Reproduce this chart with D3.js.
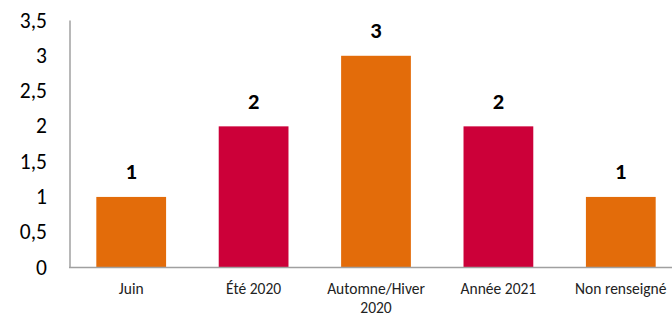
<!DOCTYPE html>
<html>
<head>
<meta charset="utf-8">
<script src="https://cdn.jsdelivr.net/npm/d3@7"></script>
<style>
  body { margin: 0; background: #fff; }
  svg { display: block; }
</style>
</head>
<body>
<div id="wrapper"></div>
<script>
const categories = [['Juin'], ['Été 2020'], ['Automne/Hiver', '2020'], ['Année 2021'], ['Non renseigné']];
const values = [1, 2, 3, 2, 1];
const barColors = ['#E36C0A', '#CC0039', '#E36C0A', '#CC0039', '#E36C0A'];
const yTicks = [0, 0.5, 1, 1.5, 2, 2.5, 3, 3.5];

const W = 672, H = 315;
const FONT = 'Carlito, Calibri, "Open Sans", sans-serif';

const svg = d3.select('#wrapper').append('svg')
  .attr('width', W)
  .attr('height', H);

const x = d3.scaleBand()
  .domain(d3.range(categories.length))
  .range([70, 682])
  .paddingInner(0.43)
  .paddingOuter(0.215);

const y = d3.scaleLinear()
  .domain([0, 3.5])
  .range([267.5, 20.5]);

const fmt = d => String(d).replace('.', ',');

/* Y axis */
const yAxis = svg.append('g').attr('transform', 'translate(70,0)');
yAxis.append('line')
  .attr('x1', 0).attr('x2', 0)
  .attr('y1', y(3.5)).attr('y2', y(0))
  .attr('stroke', '#a0a0a0')
  .attr('stroke-width', 1.5);
yAxis.selectAll('text').data(yTicks).join('text')
  .attr('x', -23)
  .attr('y', d => y(d))
  .attr('text-anchor', 'end')
  .attr('dominant-baseline', 'central')
  .attr('font-family', FONT)
  .attr('font-size', 21.5)
  .attr('fill', '#000')
  .text(fmt);

/* Bars */
svg.append('g').selectAll('rect').data(values).join('rect')
  .attr('x', (d, i) => x(i))
  .attr('width', x.bandwidth())
  .attr('y', d => y(d))
  .attr('height', d => y(0) - y(d))
  .attr('fill', (d, i) => barColors[i]);

/* X axis line */
svg.append('line')
  .attr('x1', 69).attr('x2', W)
  .attr('y1', y(0)).attr('y2', y(0))
  .attr('stroke', '#a0a0a0')
  .attr('stroke-width', 1.5);

/* Category labels */
const labels = svg.append('g').selectAll('text').data(categories).join('text')
  .attr('text-anchor', 'middle')
  .attr('font-family', FONT)
  .attr('font-size', 15.5)
  .attr('fill', '#222');
labels.selectAll('tspan').data((d, i) => d.map(t => ({t, i}))).join('tspan')
  .attr('x', d => x(d.i) + x.bandwidth() / 2)
  .attr('y', (d, j) => 294 + j * 18.5)
  .text(d => d.t);

/* Value labels */
svg.append('g').selectAll('text').data(values).join('text')
  .attr('x', (d, i) => x(i) + x.bandwidth() / 2)
  .attr('y', d => y(d) - 25)
  .attr('text-anchor', 'middle')
  .attr('dominant-baseline', 'central')
  .attr('font-family', FONT)
  .attr('font-size', 22.5)
  .attr('font-weight', 'bold')
  .attr('fill', '#000')
  .text(d => d);
</script>
</body>
</html>
